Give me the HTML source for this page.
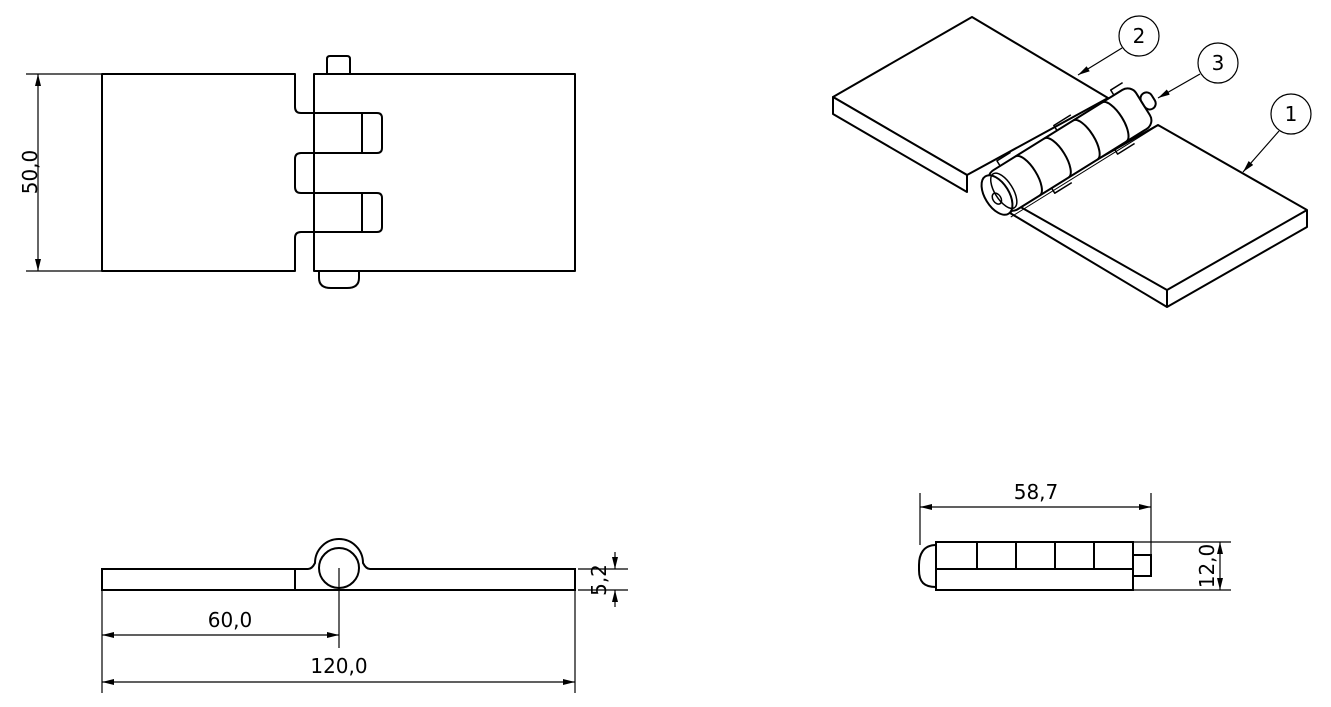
<!DOCTYPE html>
<html><head><meta charset="utf-8"><style>
html,body{margin:0;padding:0;background:#fff}
svg{display:block}
</style></head><body>
<svg width="1331" height="707" viewBox="0 0 1331 707" xmlns="http://www.w3.org/2000/svg" font-family="DejaVu Sans, Liberation Sans, sans-serif" font-size="20">
<defs>
<marker id="a" viewBox="0 0 12 6" refX="12" refY="3" markerWidth="12" markerHeight="6" orient="auto-start-reverse" markerUnits="userSpaceOnUse"><path d="M0,0 L12,3 L0,6 z" fill="#000"/></marker>
</defs>
<g fill="none" stroke="#000" stroke-width="2" stroke-linejoin="round">
<path d="M327,74 V59 q0,-3 3,-3 H347 q3,0 3,3 V74"/>
<path d="M319,271 V278 q0,10 12,10 H347 q12,0 12,-10 V271"/>
<path d="M102,74 H295 V107 q0,6 6,6 H377 q5,0 5,5 V148 q0,5 -5,5 H301 q-6,0 -6,6 V187 q0,6 6,6 H377 q5,0 5,5 V227 q0,5 -5,5 H301 q-6,0 -6,6 V271 H102 Z"/>
<line x1="362" y1="113" x2="362" y2="153"/>
<line x1="362" y1="193" x2="362" y2="232"/>
<path d="M314,74 H575 V271 H314 Z"/>
</g>
<g stroke="#000" stroke-width="1.2" fill="none">
<line x1="26" y1="74" x2="102" y2="74"/>
<line x1="26" y1="271" x2="102" y2="271"/>
<line x1="38" y1="74" x2="38" y2="271" marker-start="url(#a)" marker-end="url(#a)"/>
</g>
<text transform="translate(37,172) rotate(-90)" text-anchor="middle">50,0</text>

<g fill="none" stroke="#000" stroke-width="2">
<path d="M102,569 H295 V590 H102 Z"/>
<path d="M295,569 H308 q4,0 7,-6 A24,24 0 0 1 363,563 q3,6 7,6 H575 V590 H295"/>
<circle cx="339" cy="568" r="20"/>
</g>
<g stroke="#000" stroke-width="1.2" fill="none">
<line x1="339" y1="568" x2="339" y2="648"/>
<line x1="102" y1="590" x2="102" y2="693"/>
<line x1="575" y1="590" x2="575" y2="693"/>
<line x1="102" y1="635" x2="339" y2="635" marker-start="url(#a)" marker-end="url(#a)"/>
<line x1="102" y1="682" x2="575" y2="682" marker-start="url(#a)" marker-end="url(#a)"/>
<line x1="578" y1="569" x2="628" y2="569"/>
<line x1="578" y1="590" x2="628" y2="590"/>
<line x1="615" y1="552" x2="615" y2="569" marker-end="url(#a)"/>
<line x1="615" y1="607" x2="615" y2="590" marker-end="url(#a)"/>
</g>
<text x="230" y="627" text-anchor="middle">60,0</text>
<text x="339" y="673" text-anchor="middle">120,0</text>
<text transform="translate(606,580) rotate(-90)" text-anchor="middle">5,2</text>

<g fill="none" stroke="#000" stroke-width="2">
<path d="M936,545 C923,545 919,555 919,565 V570 C919,582 924,587 936,587"/>
<rect x="936" y="542" width="197" height="48"/>
<line x1="936" y1="569" x2="1133" y2="569"/>
<line x1="977" y1="542" x2="977" y2="569"/>
<line x1="1016" y1="542" x2="1016" y2="569"/>
<line x1="1055" y1="542" x2="1055" y2="569"/>
<line x1="1094" y1="542" x2="1094" y2="569"/>
<rect x="1133" y="555" width="18" height="21"/>
</g>
<g stroke="#000" stroke-width="1.2" fill="none">
<line x1="920" y1="493" x2="920" y2="545"/>
<line x1="1151" y1="493" x2="1151" y2="555"/>
<line x1="920" y1="507" x2="1151" y2="507" marker-start="url(#a)" marker-end="url(#a)"/>
<line x1="1133" y1="542" x2="1231" y2="542"/>
<line x1="1133" y1="590" x2="1231" y2="590"/>
<line x1="1220" y1="542" x2="1220" y2="590" marker-start="url(#a)" marker-end="url(#a)"/>
</g>
<text x="1036" y="499" text-anchor="middle">58,7</text>
<text transform="translate(1214,566) rotate(-90)" text-anchor="middle">12,0</text>

<g fill="#fff" stroke="#000" stroke-width="2" stroke-linejoin="round">
<path d="M1158,125 L1307,210 L1307,227 L1167,307 L1010,213 L1017,205 Z"/>
<path d="M1017,205 L1167,290 L1307,210" fill="none"/>
<line x1="1167" y1="290" x2="1167" y2="307"/>
<path d="M972,17 L1108,98 L967,175 L833,97 Z"/>
<path d="M833,97 L833,114 L967,192 L967,175 Z"/>
<g transform="translate(997,195) rotate(-31.9)">
<path d="M50,23 v6 h20 M124,23 v6 h20 M85,-23 v-6 h20 M18,-23 v-6 h16 M152,-23 v-6 h14" fill="none" stroke-width="1.5"/>
<rect x="0" y="-23" width="172" height="46" rx="10"/>
<path d="M36,-23 a9,23 0 0 1 0,46 M70,-23 a9,23 0 0 1 0,46 M104,-23 a9,23 0 0 1 0,46 M138,-23 a9,23 0 0 1 0,46" fill="none"/>
<rect x="172" y="-9" width="12" height="18" rx="6"/>
<line x1="0" y1="26" x2="172" y2="26" stroke-width="1"/>
<ellipse cx="0" cy="0" rx="12" ry="22"/>
<ellipse cx="8" cy="0" rx="9" ry="20" fill="none" stroke-width="1.5"/>
<ellipse cx="-2" cy="3" rx="4" ry="6" fill="none" stroke-width="1.5"/>
</g>
</g>
<g fill="none" stroke="#000" stroke-width="1.2">
<circle cx="1139" cy="36" r="20"/>
<circle cx="1218" cy="63" r="20"/>
<circle cx="1291" cy="114" r="20"/>
<line x1="1122" y1="48" x2="1078" y2="75" marker-end="url(#a)"/>
<line x1="1200" y1="74" x2="1158" y2="98" marker-end="url(#a)"/>
<line x1="1279" y1="131" x2="1243" y2="172" marker-end="url(#a)"/>
</g>
<text x="1139" y="43" text-anchor="middle">2</text>
<text x="1218" y="70" text-anchor="middle">3</text>
<text x="1291" y="121" text-anchor="middle">1</text>
</svg>
</body></html>
